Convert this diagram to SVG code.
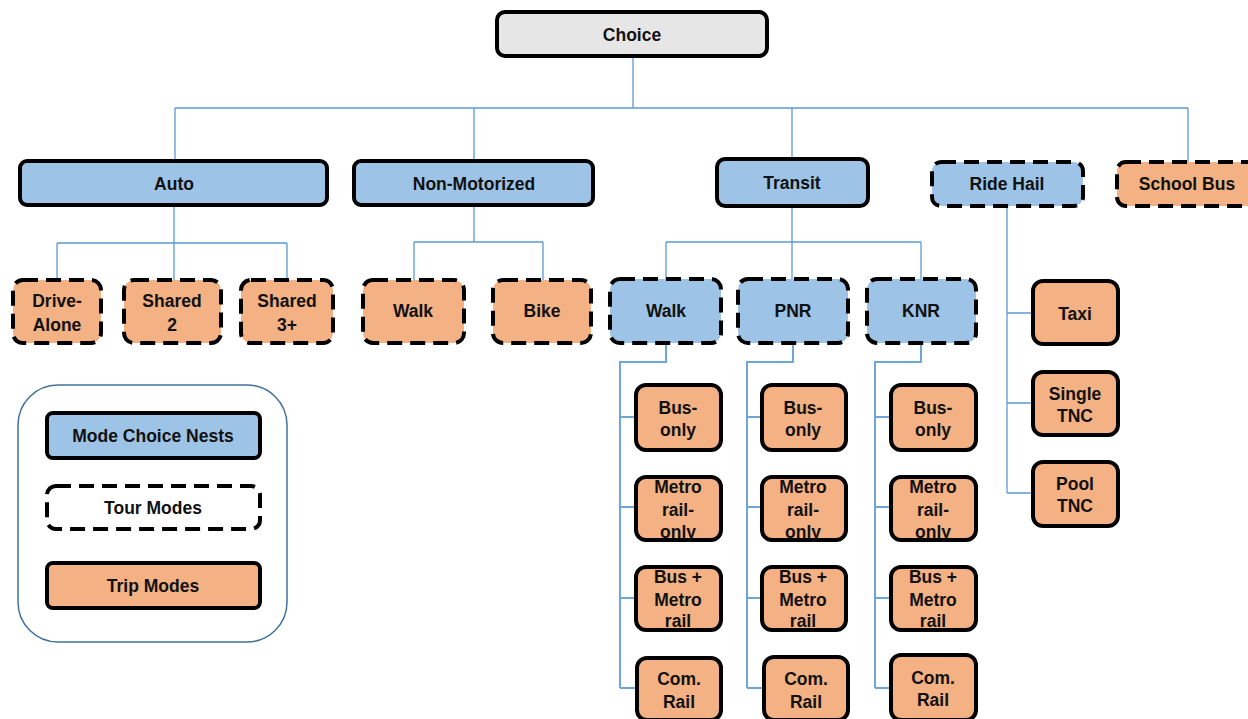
<svg xmlns="http://www.w3.org/2000/svg" width="1248" height="719" viewBox="0 0 1248 719">
<style>
.t{font-family:"Liberation Sans",Arial,sans-serif;font-weight:bold;font-size:17.5px;fill:#111;text-anchor:middle}
.nest{fill:#9dc3e6;stroke:#000;stroke-width:4}
.trip{fill:#f4b183;stroke:#000;stroke-width:4}
.tour{stroke:#000;stroke-width:4;stroke-dasharray:15 8}
.root{fill:#e7e6e6;stroke:#000;stroke-width:4}
.c{fill:none;stroke:#5b9bd5;stroke-width:1.3}
.c2{fill:none;stroke:#6fa6da;stroke-width:2}
</style>
<rect width="1248" height="719" fill="#fff"/>
<g id="connectors">
<path class="c" d="M633 56V108M175 108H1188M175 108V161M474 108V161M792 108V159M1188 108V162"/>
<path class="c" d="M174 205V243M57 243H287M57 243V280M174 243V280M287 243V280"/>
<path class="c" d="M474 205V242M414 242H543M414 242V280M543 242V280"/>
<path class="c" d="M792 206V242M666 242H921M666 242V279M792 242V279M921 242V279"/>
<path class="c2" d="M666 343V362H620V688M620 417H636M620 507H636M620 598H636M620 688H636"/>
<path class="c2" d="M793 343V362H747V688M747 417H762M747 507H762M747 598H762M747 688H764"/>
<path class="c2" d="M921 343V362H875V688M875 417H891M875 507H891M875 598H891M875 688H891"/>
<path class="c" d="M1007 206V493M1007 313H1033M1007 403H1033M1007 493H1033"/>
</g>
<g id="choice"><rect class="root" x="497" y="12" width="270" height="44" rx="8"/><text class="t" x="632" y="40.5">Choice</text></g>
<g id="auto"><rect class="nest" x="20" y="161" width="307" height="44" rx="7"/><text class="t" x="174" y="189.5">Auto</text></g>
<g id="nonmotorized"><rect class="nest" x="354" y="161" width="239" height="44" rx="7"/><text class="t" x="474" y="189.5">Non-Motorized</text></g>
<g id="transit"><rect class="nest" x="717" y="159" width="151" height="47" rx="8"/><text class="t" x="792" y="188.5">Transit</text></g>
<g id="ridehail"><rect class="nest tour" x="932" y="162" width="151" height="44" rx="9"/><text class="t" x="1007" y="189.5">Ride Hail</text></g>
<g id="schoolbus"><rect class="trip tour" x="1117" y="162" width="141" height="44" rx="9"/><text class="t" x="1187" y="189.5">School Bus</text></g>
<g id="drivealone"><rect class="trip tour" x="13" y="280" width="88" height="63" rx="10"/><text class="t" x="57" y="306.5">Drive-</text><text class="t" x="57" y="330.5">Alone</text></g>
<g id="shared2"><rect class="trip tour" x="124" y="280" width="97" height="63" rx="10"/><text class="t" x="172" y="306.5">Shared</text><text class="t" x="172" y="330.5">2</text></g>
<g id="shared3"><rect class="trip tour" x="241" y="280" width="92" height="63" rx="10"/><text class="t" x="287" y="306.5">Shared</text><text class="t" x="287" y="330.5">3+</text></g>
<g id="walk"><rect class="trip tour" x="363" y="280" width="101" height="63" rx="10"/><text class="t" x="413" y="316.5">Walk</text></g>
<g id="bike"><rect class="trip tour" x="493" y="280" width="98" height="63" rx="10"/><text class="t" x="542" y="316.5">Bike</text></g>
<g id="transitwalk"><rect class="nest tour" x="610" y="279" width="111" height="64" rx="10"/><text class="t" x="666" y="316.5">Walk</text></g>
<g id="pnr"><rect class="nest tour" x="738" y="279" width="110" height="64" rx="10"/><text class="t" x="793" y="316.5">PNR</text></g>
<g id="knr"><rect class="nest tour" x="867" y="279" width="109" height="64" rx="10"/><text class="t" x="921" y="316.5">KNR</text></g>
<g id="walk-busonly"><rect class="trip" x="636" y="385" width="85" height="65" rx="10"/><text class="t" x="678" y="413.5">Bus-</text><text class="t" x="678" y="435.5">only</text></g>
<g id="walk-metro"><rect class="trip" x="636" y="477" width="85" height="63" rx="10"/><text class="t" x="678" y="492.5">Metro</text><text class="t" x="678" y="515.5">rail-</text><text class="t" x="678" y="537.5">only</text></g>
<g id="walk-busmetro"><rect class="trip" x="636" y="567" width="85" height="63" rx="10"/><text class="t" x="678" y="582.5">Bus +</text><text class="t" x="678" y="605.5">Metro</text><text class="t" x="678" y="626.5">rail</text></g>
<g id="walk-comrail"><rect class="trip" x="637" y="658" width="84" height="62" rx="10"/><text class="t" x="679" y="684.5">Com.</text><text class="t" x="679" y="707.5">Rail</text></g>
<g id="pnr-busonly"><rect class="trip" x="762" y="385" width="84" height="65" rx="10"/><text class="t" x="803" y="413.5">Bus-</text><text class="t" x="803" y="435.5">only</text></g>
<g id="pnr-metro"><rect class="trip" x="762" y="477" width="84" height="63" rx="10"/><text class="t" x="803" y="492.5">Metro</text><text class="t" x="803" y="515.5">rail-</text><text class="t" x="803" y="537.5">only</text></g>
<g id="pnr-busmetro"><rect class="trip" x="762" y="567" width="84" height="63" rx="10"/><text class="t" x="803" y="582.5">Bus +</text><text class="t" x="803" y="605.5">Metro</text><text class="t" x="803" y="626.5">rail</text></g>
<g id="pnr-comrail"><rect class="trip" x="764" y="657" width="84" height="63" rx="10"/><text class="t" x="806" y="684.5">Com.</text><text class="t" x="806" y="707.5">Rail</text></g>
<g id="knr-busonly"><rect class="trip" x="891" y="385" width="85" height="65" rx="10"/><text class="t" x="933" y="413.5">Bus-</text><text class="t" x="933" y="435.5">only</text></g>
<g id="knr-metro"><rect class="trip" x="891" y="477" width="85" height="63" rx="10"/><text class="t" x="933" y="492.5">Metro</text><text class="t" x="933" y="515.5">rail-</text><text class="t" x="933" y="537.5">only</text></g>
<g id="knr-busmetro"><rect class="trip" x="891" y="567" width="85" height="63" rx="10"/><text class="t" x="933" y="582.5">Bus +</text><text class="t" x="933" y="605.5">Metro</text><text class="t" x="933" y="626.5">rail</text></g>
<g id="knr-comrail"><rect class="trip" x="891" y="655" width="85" height="65" rx="10"/><text class="t" x="933" y="683.5">Com.</text><text class="t" x="933" y="705.5">Rail</text></g>
<g id="taxi"><rect class="trip" x="1033" y="281" width="85" height="63" rx="10"/><text class="t" x="1075" y="319.5">Taxi</text></g>
<g id="singletnc"><rect class="trip" x="1033" y="372" width="85" height="63" rx="10"/><text class="t" x="1075" y="399.5">Single</text><text class="t" x="1075" y="421.5">TNC</text></g>
<g id="pooltnc"><rect class="trip" x="1033" y="462" width="85" height="64" rx="10"/><text class="t" x="1075" y="489.5">Pool</text><text class="t" x="1075" y="511.5">TNC</text></g>
<g id="legend">
<rect x="18" y="385" width="269" height="257" rx="40" fill="#fff" stroke="#41719c" stroke-width="1.5"/>
<rect class="nest" x="47" y="413" width="213" height="45" rx="6"/><text class="t" x="153" y="441.5">Mode Choice Nests</text>
<rect class="tour" fill="#fff" x="47" y="486" width="213" height="43" rx="9"/><text class="t" x="153" y="513.5">Tour Modes</text>
<rect class="trip" x="47" y="563" width="213" height="45" rx="6"/><text class="t" x="153" y="591.5">Trip Modes</text>
</g>
</svg>
